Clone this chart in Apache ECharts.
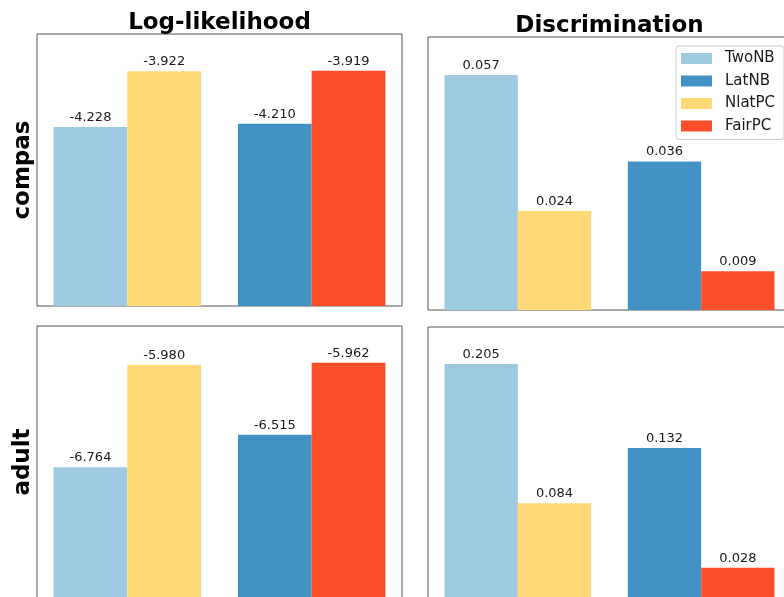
<!DOCTYPE html>
<html>
<head>
<meta charset="utf-8">
<script src="https://cdn.jsdelivr.net/npm/echarts@6/dist/echarts.min.js"></script>
<style>
html,body{margin:0;padding:0;background:#fff;}
#chart{width:784px;height:597px;}
</style>
</head>
<body>
<div id="chart"></div>
<script>
// ---- data ----
const methods = ['TwoNB', 'LatNB', 'NlatPC', 'FairPC'];
const datasetNames = ['compas', 'adult'];
const metricNames = ['Log-likelihood', 'Discrimination'];
const compasLogLik = [-4.228, -4.210, -3.922, -3.919];
const compasDisc = [0.057, 0.036, 0.024, 0.0094];
const adultLogLik = [-6.764, -6.515, -5.980, -5.962];
const adultDisc = [0.205, 0.132, 0.084, 0.028];

// ---- layout / style ----
const colors = ['#9ecae1', '#4292c6', '#fed976', '#fc4e2a'];
const groupOf = [0, 1, 0, 1];          // which pair a method belongs to
const sideOf = [-0.2, -0.2, 0.2, 0.2]; // offset within the pair
const barUnit = 0.4;
const xMin = -0.49, xMax = 1.49;
const FONT = 'DejaVu Sans';

const panels = [
  { vals: compasLogLik, grid: { left: 37, top: 34, width: 365, height: 272 }, y: [-5.211, -3.717], rowName: datasetNames[0] },
  { vals: compasDisc,   grid: { left: 428, top: 37, width: 363, height: 273 }, y: [0, 0.0662] },
  { vals: adultLogLik,  grid: { left: 37, top: 326, width: 365, height: 272 }, y: [-7.765, -5.681], rowName: datasetNames[1] },
  { vals: adultDisc,    grid: { left: 428, top: 327, width: 363, height: 273 }, y: [0, 0.2372] }
];

const grid = [], xAxis = [], yAxis = [], series = [];
panels.forEach((p, i) => {
  grid.push(Object.assign({ show: true, borderColor: '#555', borderWidth: 1, backgroundColor: '#fff', outerBoundsMode: 'none', containLabel: false }, p.grid));
  xAxis.push({ type: 'value', gridIndex: i, min: xMin, max: xMax, show: false });
  yAxis.push({
    type: 'value', gridIndex: i, min: p.y[0], max: p.y[1], startValue: p.y[0],
    axisLine: { show: false }, axisTick: { show: false }, axisLabel: { show: false }, splitLine: { show: false },
    name: p.rowName || '', nameLocation: 'middle', nameGap: 2, nameRotate: 90,
    nameTextStyle: { fontFamily: FONT, fontSize: 23, fontWeight: 'bold', color: '#000' }
  });
  const barW = barUnit * p.grid.width / (xMax - xMin);
  methods.forEach((m, k) => {
    series.push({
      type: 'bar', name: m, xAxisIndex: i, yAxisIndex: i,
      data: [[groupOf[k] + sideOf[k], p.vals[k]]],
      barWidth: barW, barGap: '-100%',
      itemStyle: { color: colors[k] },
      label: {
        show: true, position: 'top', distance: 3,
        fontFamily: FONT, fontSize: 13, color: '#1a1a1a',
        formatter: d => d.value[1].toFixed(3)
      }
    });
  });
});

const chart = echarts.init(document.getElementById('chart'), null, { renderer: 'canvas' });
chart.setOption({
  backgroundColor: '#fff',
  animation: false,
  title: [
    { text: metricNames[0], left: 219.5, top: 12, textAlign: 'center', padding: 0,
      textStyle: { fontFamily: FONT, fontSize: 23, fontWeight: 'bold', color: '#000' } },
    { text: metricNames[1], left: 609.5, top: 15, textAlign: 'center', padding: 0,
      textStyle: { fontFamily: FONT, fontSize: 23, fontWeight: 'bold', color: '#000' } }
  ],
  legend: {
    data: methods, orient: 'vertical', left: 676, top: 46,
    itemWidth: 31, itemHeight: 11, itemGap: 7.5, icon: 'rect',
    padding: [5, 9, 6, 5], borderColor: '#ccc', borderWidth: 1, borderRadius: 3,
    backgroundColor: 'rgba(255,255,255,0.8)',
    textStyle: { fontFamily: FONT, fontSize: 15, color: '#1a1a1a', padding: [0, 0, 0, 8] }
  },
  grid, xAxis, yAxis, series
});
</script>
</body>
</html>
